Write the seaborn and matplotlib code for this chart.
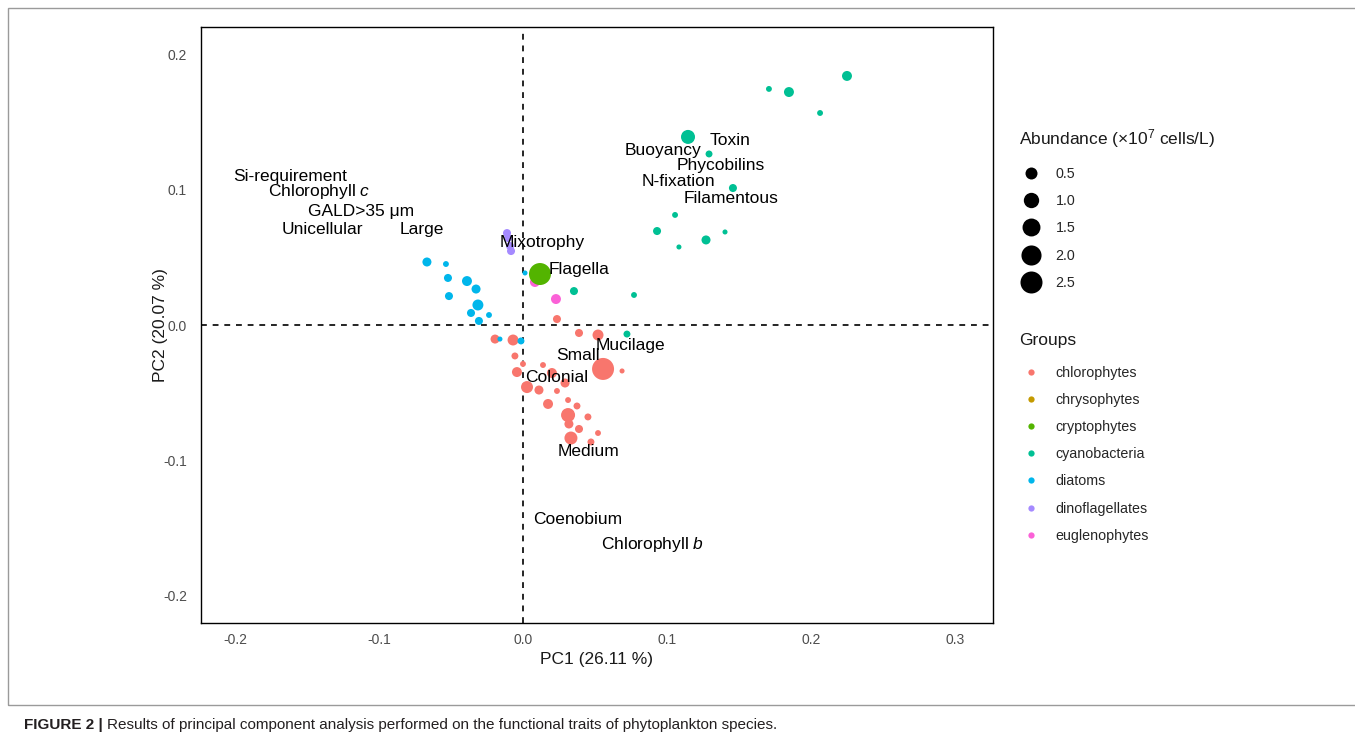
import numpy as np
import pandas as pd
import matplotlib
matplotlib.use("Agg")
import matplotlib.pyplot as plt
from matplotlib.lines import Line2D
from matplotlib.patches import Rectangle
from matplotlib.text import Annotation
import seaborn as sns

# ---------------- data ----------------
chl_x = [0.0236, 0.0389, 0.0521, -0.0194, -0.0069, -0.0056, 0.0000, 0.0139, -0.0042, 0.0556,
         0.0688, 0.0201, 0.0292, 0.0028, 0.0111, 0.0236, 0.0174, 0.0313, 0.0375, 0.0313,
         0.0319, 0.0451, 0.0389, 0.0521, 0.0333, 0.0472]
chl_y = [0.0044, -0.0059, -0.0074, -0.0104, -0.0111, -0.0229, -0.0288, -0.0296, -0.0348, -0.0325,
         -0.0340, -0.0355, -0.0429, -0.0459, -0.0481, -0.0488, -0.0584, -0.0555, -0.0599, -0.0666,
         -0.0732, -0.0680, -0.0769, -0.0799, -0.0836, -0.0865]
chl_ab = [0.13, 0.13, 0.38, 0.20, 0.38, 0.07, 0.03, 0.03, 0.28, 2.50,
          0.01, 0.28, 0.20, 0.50, 0.20, 0.03, 0.28, 0.03, 0.07, 0.78,
          0.20, 0.07, 0.13, 0.03, 0.63, 0.07]

chr_x = [0.0111]
chr_y = [0.0362]
chr_ab = [0.13]

cya_x = [0.2250, 0.1708, 0.1847, 0.2063, 0.1146, 0.1292, 0.1458, 0.1056, 0.0931, 0.1403,
         0.1271, 0.1083, 0.0354, 0.0771, 0.0722]
cya_y = [0.1842, 0.1746, 0.1723, 0.1568, 0.1391, 0.1265, 0.1013, 0.0814, 0.0695, 0.0688,
         0.0629, 0.0577, 0.0251, 0.0222, -0.0067]
cya_ab = [0.28, 0.03, 0.28, 0.03, 0.78, 0.07, 0.13, 0.03, 0.13, 0.01,
          0.20, 0.01, 0.13, 0.03, 0.07]

dia_x = [-0.0667, -0.0535, -0.0521, -0.0389, -0.0326, -0.0514, -0.0313, -0.0361, -0.0236, -0.0306,
         0.0014, -0.0160, -0.0014]
dia_y = [0.0466, 0.0451, 0.0348, 0.0325, 0.0266, 0.0214, 0.0148, 0.0089, 0.0074, 0.0030,
         0.0385, -0.0104, -0.0118]
dia_ab = [0.20, 0.03, 0.13, 0.28, 0.20, 0.13, 0.38, 0.13, 0.03, 0.13,
          0.01, 0.01, 0.07]

din_x = [-0.0111, -0.0104, -0.0090, -0.0083]
din_y = [0.0680, 0.0643, 0.0584, 0.0547]
din_ab = [0.13, 0.13, 0.13, 0.13]

eug_x = [0.0083, 0.0229]
eug_y = [0.0318, 0.0192]
eug_ab = [0.28, 0.28]

cry_x = [0.0118]
cry_y = [0.0377]
cry_ab = [2.50]

groups = ["chlorophytes", "chrysophytes", "cryptophytes", "cyanobacteria",
          "diatoms", "dinoflagellates", "euglenophytes"]
group_colors = ["#F8766D", "#C49A00", "#53B400", "#00C094", "#00B6EB", "#A58AFF", "#FB61D7"]

trait_labels = ["Si-requirement", "Chlorophyll $\\it{c}$", "GALD>35 \u03bcm", "Unicellular", "Large",
                "Mixotrophy", "Flagella", "Toxin", "Buoyancy", "Phycobilins", "N-fixation",
                "Filamentous", "Mucilage", "Small", "Colonial", "Medium", "Coenobium",
                "Chlorophyll $\\it{b}$"]
trait_x = [-0.1618, -0.1417, -0.1125, -0.1396, -0.0701, 0.0132, 0.0389, 0.1438, 0.0972, 0.1375,
           0.1083, 0.1444, 0.0743, 0.0382, 0.0236, 0.0458, 0.0382, 0.0896]
trait_y = [0.1102, 0.0991, 0.0836, 0.0710, 0.0703, 0.0607, 0.0414, 0.1361, 0.1294, 0.1183,
           0.1058, 0.0939, -0.0155, -0.0229, -0.0385, -0.0939, -0.1435, -0.1627]

size_breaks = [0.5, 1.0, 1.5, 2.0, 2.5]
x_ticks = [-0.2, -0.1, 0.0, 0.1, 0.2, 0.3]
y_ticks = [-0.2, -0.1, 0.0, 0.1, 0.2]

# draw order
order = [("chlorophytes", chl_x, chl_y, chl_ab),
         ("chrysophytes", chr_x, chr_y, chr_ab),
         ("cyanobacteria", cya_x, cya_y, cya_ab),
         ("diatoms", dia_x, dia_y, dia_ab),
         ("dinoflagellates", din_x, din_y, din_ab),
         ("euglenophytes", eug_x, eug_y, eug_ab),
         ("cryptophytes", cry_x, cry_y, cry_ab)]
frames = [pd.DataFrame({"PC1": xs, "PC2": ys, "Abundance": ab, "Group": g}) for g, xs, ys, ab in order]
df = pd.concat(frames, ignore_index=True)

# ggplot-like area size scale: diameter(px) = dmin + (dmax-dmin)*sqrt(v/vmax)
DPI = 100
def size_scale(v):
    d_px = 3.9 + 18.1 * np.sqrt(np.asarray(v, dtype=float) / 2.5)
    return (d_px * 72.0 / DPI)

# ---------------- styling ----------------
sns.set_theme(style="white")
plt.rcParams["font.family"] = ["Liberation Sans", "DejaVu Sans"]
plt.rcParams["mathtext.fontset"] = "custom"
plt.rcParams["mathtext.rm"] = "Liberation Sans"
plt.rcParams["mathtext.it"] = "Liberation Sans:italic"
plt.rcParams["mathtext.bf"] = "Liberation Sans:bold"

W, H = 1355, 744
fig = plt.figure(figsize=(W / DPI, H / DPI), dpi=DPI)
ax = fig.add_axes([201 / W, 1 - 623 / H, (993 - 201) / W, (623 - 27) / H])

pal = dict(zip(groups, group_colors))
sns.scatterplot(data=df, x="PC1", y="PC2", hue="Group", palette=pal,
                s=size_scale(df["Abundance"]) ** 2, linewidth=0, alpha=1,
                legend=False, ax=ax, zorder=3)

ax.axvline(0, color="black", lw=1.2, ls=(0, (3.5, 3.5)), zorder=2)
ax.axhline(0, color="black", lw=1.2, ls=(0, (3.5, 3.5)), zorder=2)

for lab, tx, ty in zip(trait_labels, trait_x, trait_y):
    ax.text(tx, ty, lab, ha="center", va="center", fontsize=12.5, color="black", zorder=4)

ax.set_xlim(-0.2236, 0.3264)
ax.set_ylim(-0.2204, 0.2204)
ax.set_xticks(x_ticks)
ax.set_yticks(y_ticks)
ax.set_xticklabels([f"{t:.1f}" for t in x_ticks])
ax.set_yticklabels([f"{t:.1f}" for t in y_ticks])
ax.tick_params(axis="both", length=0, labelsize=10, labelcolor="#4D4D4D")
ax.tick_params(axis="y", pad=10)
ax.tick_params(axis="x", pad=7)
for sp in ax.spines.values():
    sp.set_color("black")
    sp.set_linewidth(1.0)

ax.set_xlabel("PC1 (26.11 %)", fontsize=12.5, color="#1a1a1a")
ax.set_ylabel("PC2 (20.07 %)", fontsize=12.5, color="#1a1a1a")
ax.xaxis.set_label_coords(0.5, -0.0487)
ax.yaxis.set_label_coords(-0.0417, 0.5)

# ---------------- legends ----------------
fig.text(1019 / W, 1 - 139 / H, "Abundance ($\\times$10$^{7}$ cells/L)", fontsize=12.5,
         ha="left", va="center", color="#1a1a1a")
size_handles = [Line2D([], [], ls="", marker="o", markersize=size_scale(b), color="black",
                       markeredgewidth=0) for b in size_breaks]
fig.legend(size_handles, [f"{b:.1f}" for b in size_breaks],
           loc="upper left", bbox_to_anchor=(1014 / W, 1 - 161 / H),
           frameon=False, fontsize=10.3,
           labelspacing=0.93, handletextpad=0.9, borderaxespad=0,
           handlelength=1.6)

fig.text(1019 / W, 1 - 341 / H, "Groups", fontsize=12.5, ha="left", va="center", color="#1a1a1a")
grp_handles = [Line2D([], [], ls="", marker="o", markersize=4.5, color=c, markeredgewidth=0)
               for c in group_colors]
fig.legend(grp_handles, groups,
           loc="upper left", bbox_to_anchor=(1014 / W, 1 - 360 / H),
           frameon=False, fontsize=10.3,
           labelspacing=0.92, handletextpad=0.9, borderaxespad=0,
           handlelength=1.6)

# ---------------- panel border and caption ----------------
fig.patches.append(Rectangle((8 / W, 1 - 705 / H), 1.2, (705 - 8) / H, transform=fig.transFigure,
                             fill=False, edgecolor="#9a9a9a", lw=1.0))
cap1 = fig.text(24 / W, 1 - 725 / H, "FIGURE 2 |", fontsize=11, fontweight="bold",
                va="center", ha="left", color="#231f20")
fig.add_artist(Annotation(
    "Results of principal component analysis performed on the functional traits of phytoplankton species.",
    xy=(1, 0.5), xycoords=cap1, xytext=(3, 0), textcoords="offset points",
    fontsize=11, va="center", ha="left", color="#231f20"))

fig.savefig("out.png", dpi=DPI)
